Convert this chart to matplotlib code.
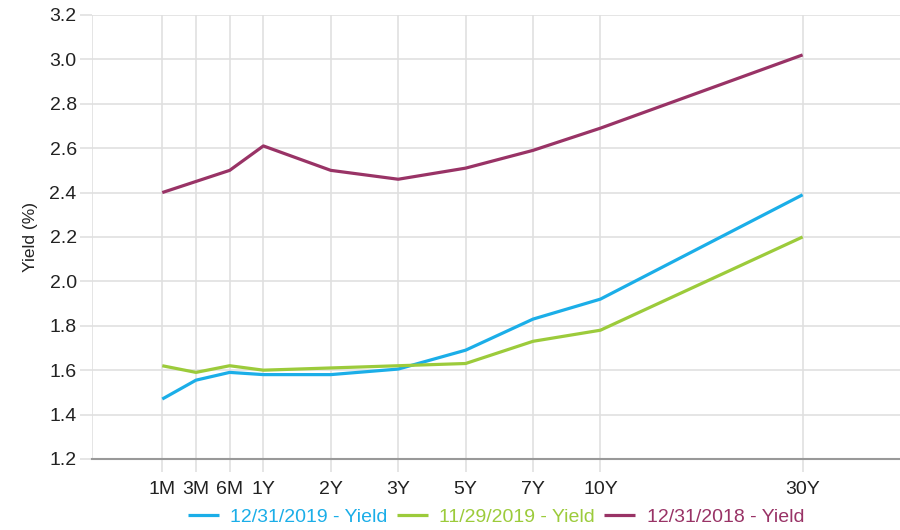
import matplotlib.pyplot as plt

plt.rcParams["font.family"] = ["Liberation Sans", "DejaVu Sans"]

tenors = ["1M", "3M", "6M", "1Y", "2Y", "3Y", "5Y", "7Y", "10Y", "30Y"]
tenor_pos = [0, 0.5, 1, 1.5, 2.5, 3.5, 4.5, 5.5, 6.5, 9.5]

yield_2019_12 = [1.47, 1.555, 1.59, 1.58, 1.58, 1.605, 1.69, 1.83, 1.92, 2.39]
yield_2019_11 = [1.62, 1.59, 1.62, 1.60, 1.61, 1.62, 1.63, 1.73, 1.78, 2.20]
yield_2018_12 = [2.40, 2.45, 2.50, 2.61, 2.50, 2.46, 2.51, 2.59, 2.69, 3.02]

series = [
    ("12/31/2019 - Yield", yield_2019_12, "#1BAEE8"),
    ("11/29/2019 - Yield", yield_2019_11, "#9CCB3B"),
    ("12/31/2018 - Yield", yield_2018_12, "#993366"),
]

fig = plt.figure(figsize=(9, 5.3), dpi=100)
ax = fig.add_axes([0.1022, 0.134, 0.8978, 0.8378])

for label, vals, color in series:
    ax.plot(tenor_pos, vals, color=color, linewidth=2.3, label=label,
            solid_capstyle="butt", zorder=3)

ax.set_xlim(-1.043, 10.945)
ax.set_ylim(1.2, 3.2)
ax.set_xticks(tenor_pos)
ax.set_xticklabels(tenors)
ax.set_yticks([1.2 + 0.2 * i for i in range(11)])
ax.set_yticklabels([f"{1.2 + 0.2 * i:.1f}" for i in range(11)])
ax.set_xticks([-1.043], minor=True)
ax.tick_params(axis="x", which="minor", length=0)

ax.grid(True, which="both", color="#e0e0e0", linewidth=1.2, zorder=0)
ax.tick_params(axis="both", which="major", length=9, color="#e0e0e0",
               width=1.2, labelsize=14, labelcolor="#222222")
ax.tick_params(axis="x", pad=7)
ax.tick_params(axis="y", pad=2)

for s in ["top", "right", "left"]:
    ax.spines[s].set_visible(False)
ax.spines["bottom"].set_color("#999999")
ax.spines["bottom"].set_linewidth(1.5)
ax.spines["bottom"].set_zorder(4)

ax.set_ylabel("Yield (%)", fontsize=12.5, color="#222222", labelpad=8)

leg = fig.legend(loc="lower center", bbox_to_anchor=(0.551, -0.025), ncol=3,
                 frameon=False, fontsize=14, handlelength=1.6,
                 columnspacing=0.45, handletextpad=0.6)
for text, (_, _, color) in zip(leg.get_texts(), series):
    text.set_color(color)

fig.savefig("out.png", dpi=100)
